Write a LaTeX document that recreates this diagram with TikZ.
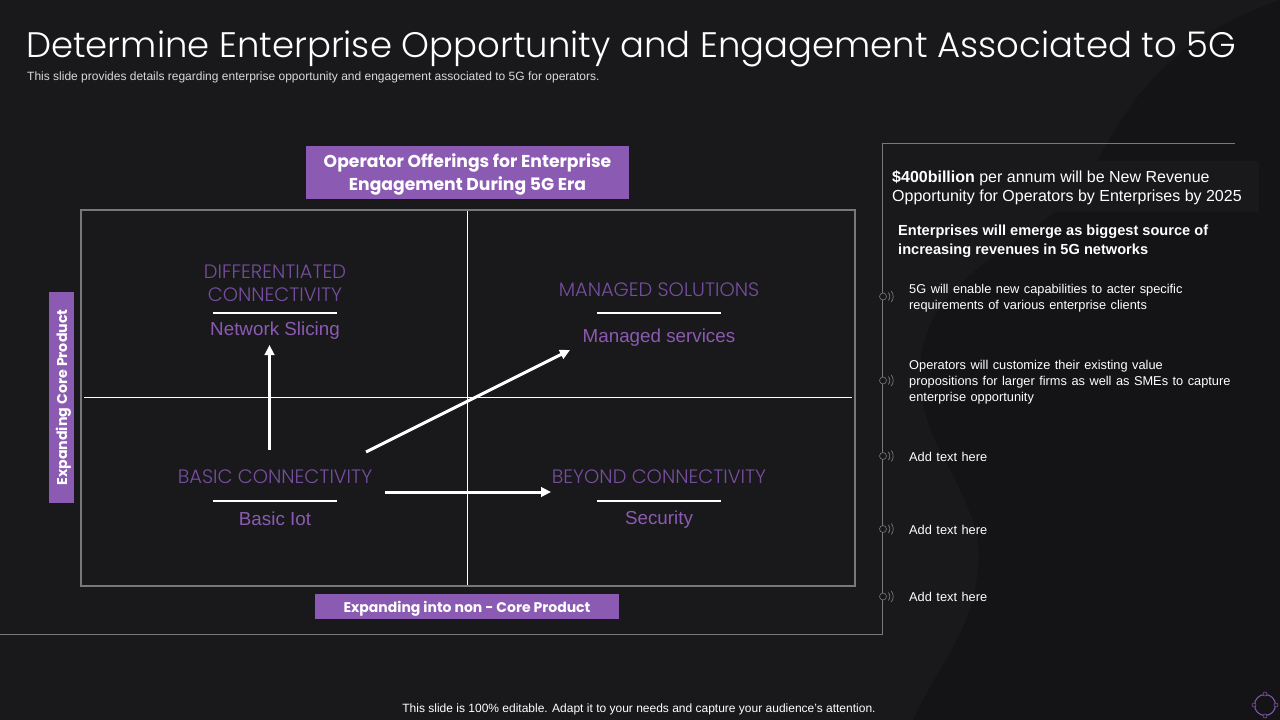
\documentclass[tikz,border=0pt]{standalone}
\usepackage{fontspec}
\setmainfont{Liberation Sans}
\newfontfamily\headfont{Poppins}
\newfontfamily\thinfont{Poppins Light}
\usetikzlibrary{arrows.meta, positioning}
\definecolor{SlideBg}{RGB}{25,25,28}
\definecolor{SlideShade}{RGB}{20,20,22}
\definecolor{OfferPurple}{RGB}{139,90,178}
\definecolor{HeadPurple}{RGB}{118,78,158}
\definecolor{RuleGray}{RGB}{120,120,120}
\newcommand{\widewords}{\spaceskip=.35em\relax}
\newcommand{\lowered}[1]{\raisebox{-2pt}[\height][\depth]{#1}}
\tikzset{
  banner/.style={fill=OfferPurple, text=white, font=\headfont\bfseries\fontsize{17.2}{23}\selectfont, align=center, inner sep=0pt},
  quadhead/.style={text=HeadPurple, font=\thinfont\fontsize{19.4}{23}\selectfont, align=center, inner sep=0pt},
  quadsub/.style={text=OfferPurple, font=\fontsize{18.8}{22}\selectfont, inner sep=0pt},
  bar/.style={draw=white, line width=1.6pt},
  growth/.style={draw=white, line width=3pt, -{Triangle[length=10pt,width=9.5pt]}},
  note/.style={text=white, font=\fontsize{12.8}{16}\selectfont\widewords, align=left, anchor=north west, inner sep=0pt},
  lead/.style={text=white, font=\bfseries\fontsize{14.6}{18.5}\selectfont, align=left, anchor=north west, inner sep=0pt},
  tick/.style={draw=RuleGray, line width=0.7pt}
}
\begin{document}
\begin{tikzpicture}[x=1pt, y=-1pt]
  \useasboundingbox (0,0) rectangle (1280,720);
  \fill[SlideBg] (0,0) rectangle (1280,720);
  % shade behind the right column
  \fill[SlideShade] (1280,0) .. controls (1210,25) and (1150,60) .. (1100,156) .. controls (1075,215) and (990,250) .. (960,285) .. controls (925,315) and (905,370) .. (933,436) .. controls (955,480) and (985,530) .. (978,565) .. controls (975,630) and (935,670) .. (913,720) -- (1280,720) -- cycle;

  \node[text=white, font=\thinfont\fontsize{35.45}{40}\selectfont, anchor=west, inner sep=0pt] (title) at (26,48.5) {Determine Enterprise Opportunity and Engagement Associated to 5G};
  \node[text=white!85!black, font=\fontsize{12}{14}\selectfont, anchor=west, inner sep=0pt] (subtitle) at (27,77) {This slide provides details regarding enterprise opportunity and engagement associated to 5G for operators.};

  % matrix
  \node[draw=RuleGray, line width=1.5pt, minimum width=774pt, minimum height=376pt, inner sep=0pt] (grid) at (468,398) {};
  \coordinate (axisT) at (467.5,211);
  \coordinate (axisB) at (467.5,585);
  \coordinate (axisL) at (84,397.5);
  \coordinate (axisR) at (852,397.5);
  \draw[white, line width=0.8pt] (axisT) -- (axisB);
  \draw[white, line width=0.8pt] (axisL) -- (axisR);

  \node[banner, minimum width=323pt, minimum height=53pt] (offerings) at (467.5,172.5) {\lowered{Operator Offerings for Enterprise}\\\lowered{Engagement During 5G Era}};
  \node[banner, font=\headfont\bfseries\fontsize{14}{16}\selectfont, minimum width=304pt, minimum height=25pt] (nonCore) at (467,606.5) {\lowered{Expanding into non - Core Product}};
  \node[banner, font=\headfont\bfseries\fontsize{14.2}{16}\selectfont, rotate=90, minimum width=211pt, minimum height=25pt] (corePr) at (61.5,397.5) {\lowered{Expanding Core Product}};

  % quadrants
  \node[quadhead] (diffHead) at (275,283) {DIFFERENTIATED\\CONNECTIVITY};
  \node[quadsub] (diffSub) at (275,331) {Network Slicing};
  \draw[bar] (213,313) -- (337,313);
  \node[quadhead] (manHead) at (659,290) {MANAGED SOLUTIONS};
  \node[quadsub] (manSub) at (659,338) {Managed services};
  \draw[bar] (597,313) -- (721,313);
  \node[quadhead] (basicHead) at (275,477) {BASIC CONNECTIVITY};
  \node[quadsub] (basicSub) at (275,519) {Basic Iot};
  \draw[bar] (213,501) -- (337,501);
  \node[quadhead] (beyHead) at (659,477) {BEYOND CONNECTIVITY};
  \node[quadsub] (beySub) at (659,520) {Security};
  \draw[bar] (597,501) -- (721,501);

  \coordinate (upA) at (269.5,450);
  \coordinate (upB) at (269.5,345);
  \coordinate (diagA) at (366,452);
  \coordinate (diagB) at (570,350);
  \coordinate (rightA) at (385,492);
  \coordinate (rightB) at (551,492);
  \draw[growth] (upA) -- (upB);
  \draw[growth] (diagA) -- (diagB);
  \draw[growth] (rightA) -- (rightB);

  % right column
  \coordinate (frameR) at (1235,143.5);
  \coordinate (frameC) at (882.5,143.5);
  \coordinate (frameD) at (882.5,634.5);
  \coordinate (frameL) at (0,634.5);
  \draw[RuleGray, line width=0.8pt] (frameR) -- (frameC) -- (frameD) -- (frameL);

  \fill[SlideBg] (888,161) rectangle (1259,212);
  \node[note, font=\fontsize{16}{19}\selectfont] (revenue) at (892,170) {\textbf{\$400billion} per annum will be New Revenue\\Opportunity for Operators by Enterprises by 2025};
  \node[lead] (emerge) at (898,225) {Enterprises will emerge as biggest source of\\increasing revenues in 5G networks};
  \node[note] (noteA) at (909,284) {5G will enable new capabilities to acter specific\\requirements of various enterprise clients};
  \node[note] (noteB) at (909,360) {Operators will customize their existing value\\propositions for larger firms as well as SMEs to capture\\enterprise opportunity};
  \node[note] (noteC) at (909,452) {Add text here};
  \node[note] (noteD) at (909,525) {Add text here};
  \node[note] (noteE) at (909,592) {Add text here};
  \foreach \ys/\nm in {296.5/sigA, 380.5/sigB, 456/sigC, 529/sigD, 596.5/sigE} {
    \node[circle, draw=RuleGray, line width=0.6pt, minimum size=7pt, inner sep=0pt, fill=SlideBg] (\nm) at (883,\ys) {};
    \draw[tick] (\nm.east) ++(1.5,-4) .. controls +(2,2) and +(2,-2) .. +(0,8);
    \draw[tick] (\nm.east) ++(4.5,-5.5) .. controls +(2.5,3) and +(2.5,-3) .. +(0,11);
  }

  \node[text=white, font=\fontsize{12}{14}\selectfont, inner sep=0pt] (footer) at (639,709) {This slide is 100\% editable. Adapt it to your needs and capture your audience's attention.};

  % corner mark
  \node[circle, draw=OfferPurple, line width=1pt, minimum size=21pt, inner sep=0pt] (mark) at (1265,705) {};
  \foreach \ang in {north,south,east,west}
    \node[circle, draw=OfferPurple, line width=0.5pt, minimum size=4pt, inner sep=0pt, fill=SlideBg] at (mark.\ang) {};
\end{tikzpicture}
\end{document}
